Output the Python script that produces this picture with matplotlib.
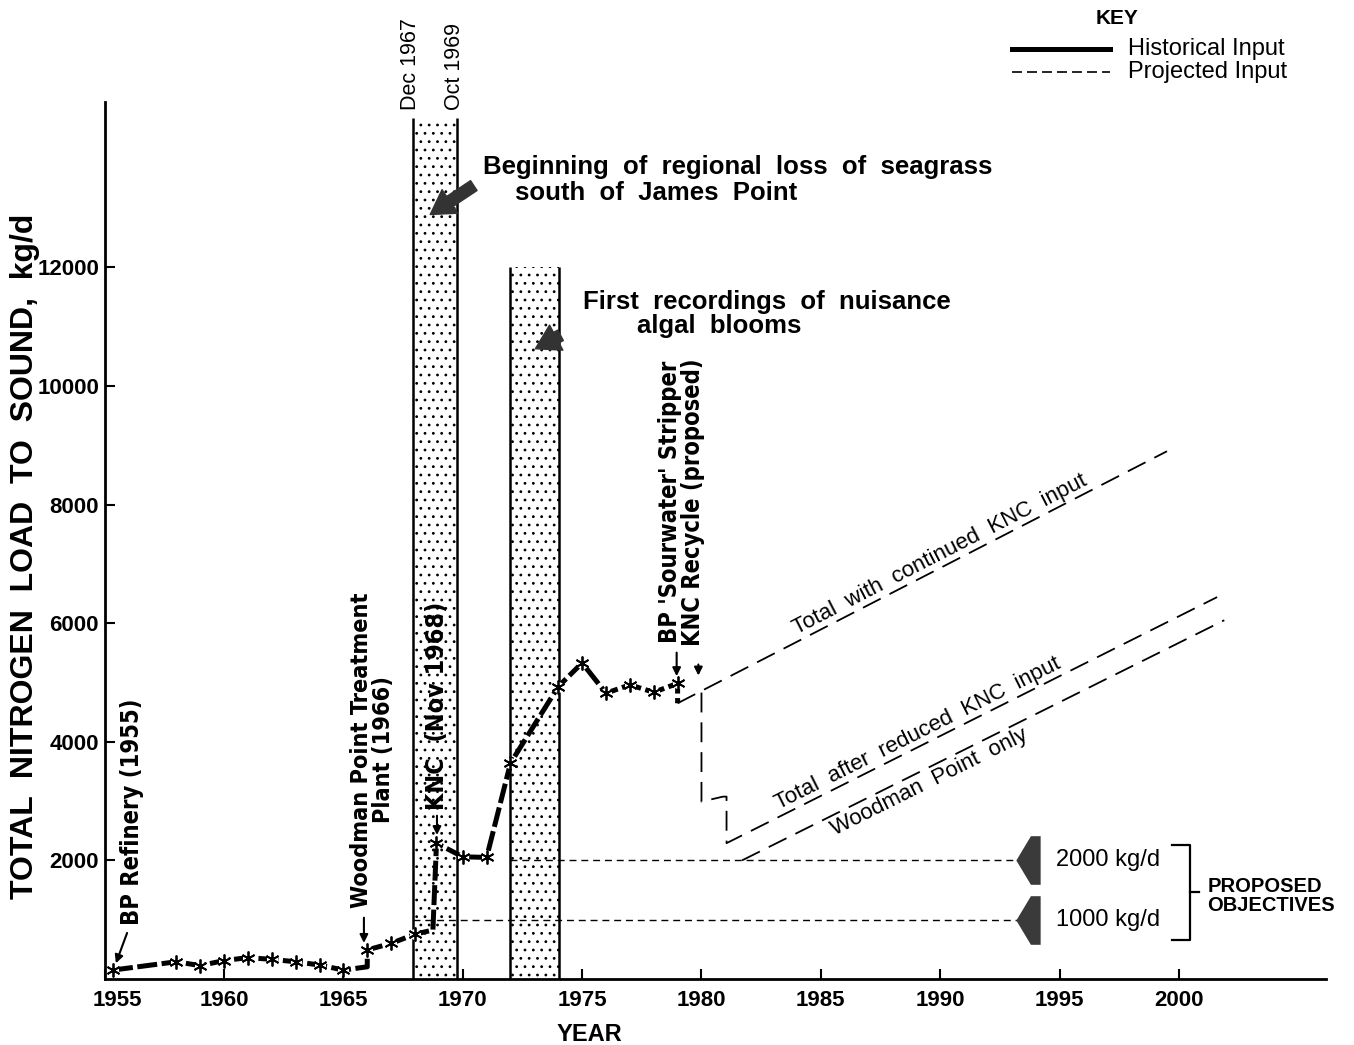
import numpy as np
import matplotlib
matplotlib.use("Agg")
import matplotlib.pyplot as plt
import matplotlib.transforms as mtransforms
from matplotlib.lines import Line2D
from matplotlib.path import Path

plt.rcParams['font.family'] = ['Liberation Sans', 'DejaVu Sans']
plt.rcParams['hatch.linewidth'] = 0.8
NARROW = dict(family='DejaVu Sans', stretch='condensed', fontweight='bold')

# historical nitrogen input to the sound, kg/d
hist_year = [1955.35, 1958, 1959, 1960, 1961, 1962, 1963, 1964, 1965, 1966, 1966,
             1967, 1968, 1968.75, 1968.9, 1970, 1971, 1972, 1974, 1975, 1976,
             1977, 1978, 1979, 1979]
hist_load = [150, 290, 225, 310, 360, 330, 290, 235, 150, 205, 490,
             600, 755, 825, 2290, 2060, 2050, 3640, 4930, 5330, 4820,
             4960, 4835, 4985, 4650]
hist_star = [1, 1, 1, 1, 1, 1, 1, 1, 1, 0, 1,
             1, 1, 0, 1, 1, 1, 1, 1, 1, 1,
             1, 1, 1, 0]

# projected inputs
cont_year = [1979, 1999.5]
cont_load = [4650, 8900]
red_year = [1980, 1980, 1980.9, 1981.05, 1981.05, 2001.6]
red_load = [4830, 2990, 3075, 3075, 2290, 6440]
wp_year = [1981.7, 2001.9]
wp_load = [2000, 6050]

# proposed objectives
obj_load = [2000, 1000]
obj_start = [1972.0, 1967.92]
obj_label = ['2000 kg/d', '1000 kg/d']

# shaded periods
band_start = [1967.92, 1972.0]
band_end = [1969.75, 1974.05]
band_top = [14520, 12000]
band_label = ['Dec 1967', 'Oct 1969']

fig = plt.figure(figsize=(13.54, 10.45), dpi=100)
ax = fig.add_axes([0.0773, 0.0632, 0.9020, 0.8392])
ax.set_xlim(1955, 2006.16)
ax.set_ylim(0, 14790)

# shaded periods
for x0, x1, top in zip(band_start, band_end, band_top):
    ax.fill_between([x0, x1], 0, top, facecolor='white', hatch='..',
                    edgecolor='black', linewidth=0, zorder=1)
    ax.vlines([x0, x1], 0, top, color='black', lw=1.8, zorder=2)
for x, lab in zip([band_start[0], band_end[0]], band_label):
    ax.text(x - 0.1, band_top[0] + 140, lab, rotation=90, ha='center', va='bottom',
            fontsize=15.5)

# objective lines and arrows
arrow_path = Path([(-0.5, 0), (0.1, 1), (0.5, 1), (0.5, -1), (0.1, -1), (-0.5, 0)],
                  [Path.MOVETO] + [Path.LINETO] * 4 + [Path.CLOSEPOLY])
for x0, val, lab in zip(obj_start, obj_load, obj_label):
    ax.plot([x0, 1993.2], [val, val], color='black', lw=1.0, dashes=(5, 3.5), zorder=2)
    ax.plot([1993.69], [val], marker=arrow_path, markersize=35, color='#3a3a3a',
            markeredgewidth=0, zorder=4)
    ax.text(1994.86, val, lab, ha='left', va='center', fontsize=17)
top_b, bot_b = max(obj_load) + 260, min(obj_load) - 340
mid_b = (top_b + bot_b) / 2
ax.plot([1999.69, 2000.46, 2000.46, 1999.69], [top_b, top_b, bot_b, bot_b],
        color='black', lw=1.6, clip_on=False)
ax.plot([2000.46, 2000.84], [mid_b, mid_b], color='black', lw=1.6, clip_on=False)
ax.text(2001.2, mid_b - 60, 'PROPOSED\nOBJECTIVES', ha='left', va='center',
        fontsize=14.5, fontweight='bold', linespacing=1.0)

# projected lines
proj_kw = dict(color='black', lw=1.3, dashes=(11, 5.5), zorder=3)
ax.plot(cont_year, cont_load, **proj_kw)
ax.plot(red_year, red_load, **proj_kw)
ax.plot(wp_year, wp_load, **proj_kw)


def put_label(xs, ys, at, text, offset, va):
    p = ax.transData.transform(np.column_stack([xs, ys]))
    ang = np.degrees(np.arctan2(p[-1, 1] - p[0, 1], p[-1, 0] - p[0, 0]))
    y_at = np.interp(at, xs, ys)
    dx = -np.sin(np.radians(ang)) * offset
    dy = np.cos(np.radians(ang)) * offset
    ax.annotate(text, xy=(at, y_at), xytext=(dx, dy), textcoords='offset points',
                rotation=ang, rotation_mode='anchor', ha='center', va=va, fontsize=16)


put_label(cont_year, cont_load, 1990.2, 'Total  with  continued  KNC  input', 1, 'bottom')
put_label(red_year[-2:], red_load[-2:], 1989.3, 'Total  after  reduced  KNC  input', 1, 'bottom')
put_label(wp_year, wp_load, 1989.3, 'Woodman  Point  only', -2, 'top')

# historical line
ax.plot(hist_year, hist_load, color='black', lw=3.6, dashes=(4, 0.9),
        solid_capstyle='butt', zorder=5)
sx = [x for x, s in zip(hist_year, hist_star) if s]
sy = [y for y, s in zip(hist_load, hist_star) if s]
ax.plot(sx, sy, ls='none', marker='o', ms=7, color='white', zorder=6)
ax.plot(sx, sy, ls='none', marker=(6, 2, 0), ms=10, mew=1.3, color='black', zorder=7)

# event annotations
arr = dict(arrowstyle='-|>', color='black', lw=1.5, mutation_scale=12)
ax.text(1956.13, 910, 'BP Refinery (1955)', rotation=90, ha='center', va='bottom',
        fontsize=17, **NARROW)
ax.annotate('', xy=(1955.43, 220), xytext=(1955.98, 820), arrowprops=arr)

ax.text(1966.21, 1200, 'Woodman Point Treatment\nPlant (1966)', rotation=90,
        ha='center', va='bottom', multialignment='center', fontsize=16.8,
        linespacing=0.95, **NARROW)
ax.annotate('', xy=(1965.86, 560), xytext=(1965.86, 1080), arrowprops=arr)

ax.text(1968.92, 2850, 'KNC  (Nov 1968)', rotation=90, ha='center', va='bottom',
        fontsize=18, **NARROW)
ax.annotate('', xy=(1968.92, 2380), xytext=(1968.92, 2800), arrowprops=arr)

ax.text(1979.15, 8044, "BP 'Sourwater' Stripper\nKNC Recycle (proposed)", rotation=90,
        ha='center', va='center', multialignment='center', fontsize=17,
        linespacing=0.95, **NARROW)
ax.annotate('', xy=(1978.96, 5060), xytext=(1978.96, 5550), arrowprops=arr)
ax.annotate('', xy=(1979.87, 5070), xytext=(1979.87, 5350), arrowprops=arr)

big = dict(arrowstyle='simple,head_length=1.0,head_width=1.2,tail_width=0.5',
           mutation_scale=17, fc='#333333', ec='#333333')
ax.text(1970.86, 13693, 'Beginning  of  regional  loss  of  seagrass', ha='left',
        va='center', fontsize=18.5, fontweight='bold')
ax.text(1972.2, 13255, 'south  of  James  Point', ha='left', va='center',
        fontsize=18.5, fontweight='bold')
ax.annotate('', xy=(1968.54, 12867), xytext=(1970.56, 13406), arrowprops=big)
ax.text(1975.04, 11417, 'First  recordings  of  nuisance', ha='left', va='center',
        fontsize=18.5, fontweight='bold')
ax.text(1977.3, 11012, 'algal  blooms', ha='left', va='center', fontsize=18.5,
        fontweight='bold')
ax.annotate('', xy=(1972.94, 10607), xytext=(1974.2, 10877), arrowprops=big)

# axes styling
ax.spines['top'].set_visible(False)
ax.spines['right'].set_visible(False)
ax.spines['left'].set_linewidth(2)
ax.spines['bottom'].set_linewidth(2)
ax.set_xticks(range(1955, 2001, 5))
ax.set_yticks(range(2000, 12001, 2000))
ax.tick_params(direction='in', length=7, width=1.5, labelsize=16)
ax.tick_params(axis='x', pad=8)
ax.tick_params(axis='y', pad=4)
for t in ax.get_xticklabels() + ax.get_yticklabels():
    t.set_fontweight('bold')
# first year label sits clear of the axis corner
lab0 = ax.xaxis.get_majorticklabels()[0]
lab0.set_transform(lab0.get_transform() +
                   mtransforms.ScaledTranslation(9 / 72, 0, fig.dpi_scale_trans))
ax.set_ylabel('TOTAL  NITROGEN  LOAD  TO  SOUND,  kg/d', fontsize=23, fontweight='bold')
ax.yaxis.set_label_coords(-0.053, 0.482)
ax.set_xlabel('YEAR', fontsize=17, fontweight='bold')
ax.xaxis.set_label_coords(0.397, -0.050)

# key
fig.text(1117 / 1354, 1 - 18 / 1045, 'KEY', ha='center', va='center', fontsize=15,
         fontweight='bold')
key_lines = [dict(color='black', lw=3.6), dict(color='black', lw=1.2, dashes=(6, 3))]
for i, (kw, lab) in enumerate(zip(key_lines, ['Historical Input', 'Projected Input'])):
    yk = 1 - (49 + 23 * i) / 1045
    fig.add_artist(Line2D([1012 / 1354, 1110 / 1354], [yk, yk], **kw))
    fig.text(1128 / 1354, yk, lab, ha='left', va='center', fontsize=17)

fig.savefig('out.png', dpi=100)
